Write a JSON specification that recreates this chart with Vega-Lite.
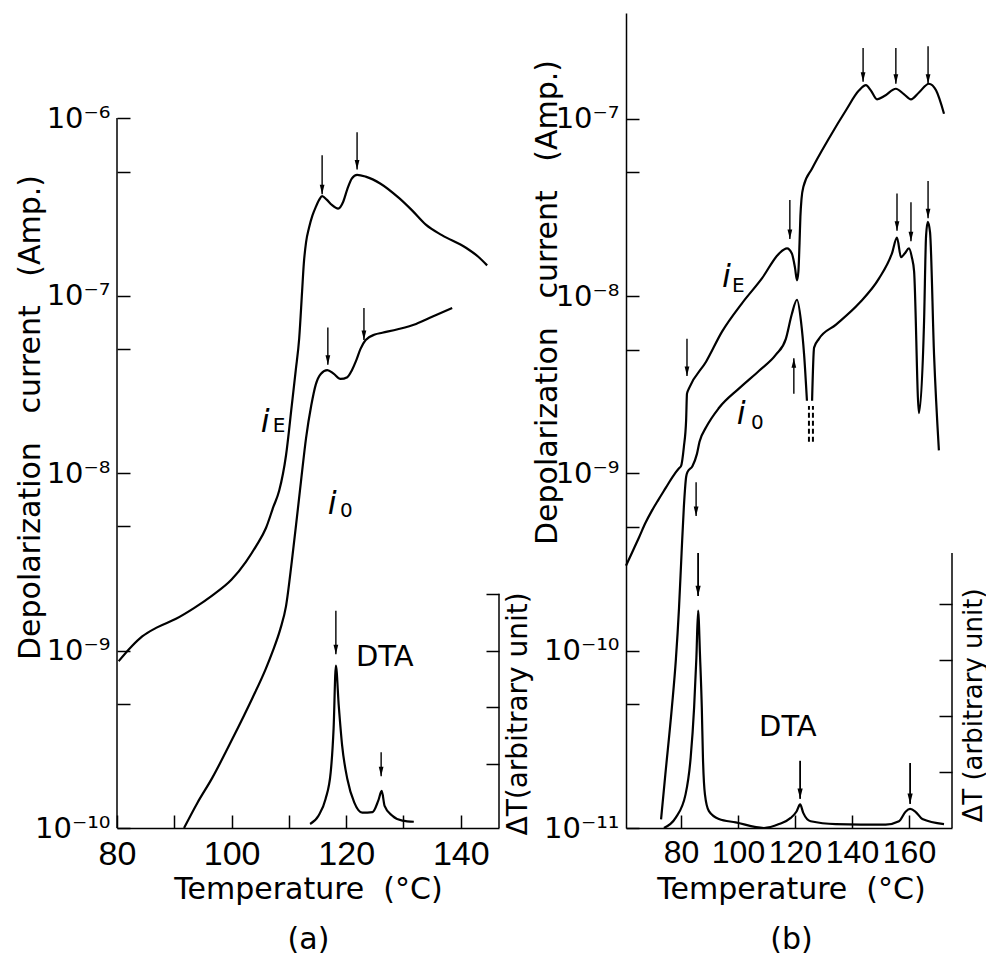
{
"$schema": "https://vega.github.io/schema/vega-lite/v6.json",
"background": "white",
"padding": {"left": 15, "top": 13, "right": 0, "bottom": 0},
"spacing": 127,
"bounds": "flush",
"config": {
  "view": {"stroke": null},
  "font": "DejaVu Sans",
  "axis": {"grid": false, "domainColor": "black", "tickColor": "black", "labelColor": "black", "titleColor": "black", "domainWidth": 1.5, "tickWidth": 1.5, "tickSize": -13, "labelFont": "Liberation Sans", "labelFontSize": 33, "labelPadding": 20, "titleFont": "DejaVu Sans", "titleFontSize": 30, "titleFontWeight": "normal", "labelOverlap": false, "labelFlush": false}
},
"datasets": {
  "aCur": [
    {"T":80.3,"I":8.71e-10,"s":"iE"},{"T":82.5,"I":1.05e-9,"s":"iE"},{"T":84.4,"I":1.20e-9,"s":"iE"},{"T":87.0,"I":1.35e-9,"s":"iE"},{"T":90.3,"I":1.51e-9,"s":"iE"},{"T":93.5,"I":1.74e-9,"s":"iE"},{"T":96.6,"I":2.04e-9,"s":"iE"},{"T":100.0,"I":2.51e-9,"s":"iE"},{"T":102.5,"I":3.16e-9,"s":"iE"},{"T":104.3,"I":3.89e-9,"s":"iE"},{"T":106.0,"I":4.90e-9,"s":"iE"},{"T":107.3,"I":6.46e-9,"s":"iE"},{"T":108.3,"I":7.94e-9,"s":"iE"},{"T":109.5,"I":1.26e-8,"s":"iE"},{"T":110.5,"I":2.40e-8,"s":"iE"},{"T":111.2,"I":3.80e-8,"s":"iE"},{"T":111.8,"I":5.75e-8,"s":"iE"},{"T":112.3,"I":1.05e-7,"s":"iE"},{"T":112.6,"I":1.51e-7,"s":"iE"},{"T":113.0,"I":2.00e-7,"s":"iE"},{"T":113.5,"I":2.40e-7,"s":"iE"},{"T":114.1,"I":2.82e-7,"s":"iE"},{"T":114.7,"I":3.16e-7,"s":"iE"},{"T":115.3,"I":3.47e-7,"s":"iE"},{"T":115.8,"I":3.63e-7,"s":"iE"},{"T":116.6,"I":3.47e-7,"s":"iE"},{"T":117.5,"I":3.24e-7,"s":"iE"},{"T":118.6,"I":3.09e-7,"s":"iE"},{"T":119.5,"I":3.39e-7,"s":"iE"},{"T":120.2,"I":3.98e-7,"s":"iE"},{"T":121.0,"I":4.57e-7,"s":"iE"},{"T":121.9,"I":4.79e-7,"s":"iE"},{"T":123.4,"I":4.68e-7,"s":"iE"},{"T":126.0,"I":4.27e-7,"s":"iE"},{"T":129.2,"I":3.55e-7,"s":"iE"},{"T":131.5,"I":3.02e-7,"s":"iE"},{"T":133.9,"I":2.51e-7,"s":"iE"},{"T":136.7,"I":2.19e-7,"s":"iE"},{"T":140.9,"I":1.86e-7,"s":"iE"},{"T":143.0,"I":1.66e-7,"s":"iE"},{"T":144.6,"I":1.48e-7,"s":"iE"},
    {"T":91.7,"I":1.0e-10,"s":"i0"},{"T":94.0,"I":1.38e-10,"s":"i0"},{"T":96.6,"I":1.91e-10,"s":"i0"},{"T":100.1,"I":3.16e-10,"s":"i0"},{"T":103.6,"I":5.37e-10,"s":"i0"},{"T":106.0,"I":7.94e-10,"s":"i0"},{"T":107.1,"I":9.77e-10,"s":"i0"},{"T":108.5,"I":1.32e-9,"s":"i0"},{"T":109.5,"I":1.78e-9,"s":"i0"},{"T":110.5,"I":3.16e-9,"s":"i0"},{"T":111.4,"I":5.62e-9,"s":"i0"},{"T":112.1,"I":8.91e-9,"s":"i0"},{"T":113.0,"I":1.58e-8,"s":"i0"},{"T":113.9,"I":2.40e-8,"s":"i0"},{"T":114.7,"I":3.16e-8,"s":"i0"},{"T":115.6,"I":3.63e-8,"s":"i0"},{"T":116.7,"I":3.80e-8,"s":"i0"},{"T":117.8,"I":3.63e-8,"s":"i0"},{"T":119.0,"I":3.39e-8,"s":"i0"},{"T":120.2,"I":3.47e-8,"s":"i0"},{"T":121.0,"I":3.80e-8,"s":"i0"},{"T":121.7,"I":4.27e-8,"s":"i0"},{"T":122.5,"I":5.01e-8,"s":"i0"},{"T":123.4,"I":5.62e-8,"s":"i0"},{"T":125.0,"I":6.03e-8,"s":"i0"},{"T":126.3,"I":6.17e-8,"s":"i0"},{"T":129.0,"I":6.46e-8,"s":"i0"},{"T":132.2,"I":6.92e-8,"s":"i0"},{"T":135.0,"I":7.59e-8,"s":"i0"},{"T":138.5,"I":8.51e-8,"s":"i0"}
  ],
  "aDTA": [
    {"T":113.7,"v":0.07},{"T":115.2,"v":0.22},{"T":116.4,"v":0.51},{"T":117.3,"v":0.98},{"T":117.8,"v":1.74},{"T":118.2,"v":2.85},{"T":118.7,"v":2.15},{"T":119.3,"v":1.44},{"T":120.2,"v":0.86},{"T":121.4,"v":0.45},{"T":122.8,"v":0.27},{"T":124.6,"v":0.28},{"T":125.6,"v":0.48},{"T":126.2,"v":0.65},{"T":126.7,"v":0.39},{"T":128.0,"v":0.22},{"T":129.8,"v":0.13},{"T":131.8,"v":0.11}
  ],
  "aArr": [
    {"T":115.8,"top":6.17e-7,"tip":3.72e-7,"dir":"down"},{"T":121.9,"top":8.32e-7,"tip":5.13e-7,"dir":"down"},{"T":116.8,"top":6.61e-8,"tip":4.07e-8,"dir":"down"},{"T":123.1,"top":8.51e-8,"tip":5.62e-8,"dir":"down"}
  ],
  "aArrD": [
    {"T":118.2,"top":3.81,"tip":3.05,"dir":"down"},{"T":126.1,"top":1.33,"tip":0.91,"dir":"down"}
  ],
  "aAxL": [{"T":80,"lo":1e-10,"hi":1e-6}],
  "aAxR": [{"T":146.67,"lo":0,"hi":4.11}],
  "aTxt": [
    {"T":105.1,"I":1.70e-8,"t":"i","r":"main"},{"T":107.2,"I":1.70e-8,"t":"E","r":"sub"},{"T":116.8,"I":5.89e-9,"t":"i","r":"main"},{"T":118.9,"I":5.62e-9,"t":"0","r":"sub"}
  ],
  "aTxtD": [{"T":121.7,"v":2.84,"t":"DTA"}],
  "bCur": [
    {"T":60.7,"I":3.02e-10,"s":"iE"},{"T":63.0,"I":3.63e-10,"s":"iE"},{"T":65.3,"I":4.37e-10,"s":"iE"},{"T":67.5,"I":5.25e-10,"s":"iE"},{"T":69.8,"I":6.17e-10,"s":"iE"},{"T":72.0,"I":7.08e-10,"s":"iE"},{"T":74.7,"I":8.32e-10,"s":"iE"},{"T":77.0,"I":9.55e-10,"s":"iE"},{"T":79.3,"I":1.07e-9,"s":"iE"},{"T":80.0,"I":1.10e-9,"s":"iE"},{"T":81.0,"I":1.41e-9,"s":"iE"},{"T":81.8,"I":2.00e-9,"s":"iE"},{"T":82.1,"I":2.82e-9,"s":"iE"},{"T":82.8,"I":3.02e-9,"s":"iE"},{"T":88.8,"I":4.27e-9,"s":"iE"},{"T":94.4,"I":6.31e-9,"s":"iE"},{"T":101.4,"I":9.12e-9,"s":"iE"},{"T":108.4,"I":1.26e-8,"s":"iE"},{"T":114.4,"I":1.74e-8,"s":"iE"},{"T":117.2,"I":1.86e-8,"s":"iE"},{"T":118.9,"I":1.74e-8,"s":"iE"},{"T":120.0,"I":1.45e-8,"s":"iE"},{"T":120.7,"I":1.23e-8,"s":"iE"},{"T":121.2,"I":1.38e-8,"s":"iE"},{"T":121.6,"I":2.00e-8,"s":"iE"},{"T":121.9,"I":2.82e-8,"s":"iE"},{"T":122.3,"I":3.55e-8,"s":"iE"},{"T":123.0,"I":4.17e-8,"s":"iE"},{"T":126.0,"I":5.25e-8,"s":"iE"},{"T":131.9,"I":7.76e-8,"s":"iE"},{"T":137.9,"I":1.12e-7,"s":"iE"},{"T":142.5,"I":1.45e-7,"s":"iE"},{"T":144.9,"I":1.55e-7,"s":"iE"},{"T":146.6,"I":1.45e-7,"s":"iE"},{"T":148.8,"I":1.29e-7,"s":"iE"},{"T":151.5,"I":1.35e-7,"s":"iE"},{"T":155.4,"I":1.48e-7,"s":"iE"},{"T":158.2,"I":1.38e-7,"s":"iE"},{"T":160.7,"I":1.29e-7,"s":"iE"},{"T":163.5,"I":1.41e-7,"s":"iE"},{"T":167.0,"I":1.58e-7,"s":"iE"},{"T":169.5,"I":1.45e-7,"s":"iE"},{"T":172.3,"I":1.07e-7,"s":"iE"},
    {"T":73.0,"I":1.12e-11,"s":"i0a"},{"T":74.5,"I":2.00e-11,"s":"i0a"},{"T":76.8,"I":4.79e-11,"s":"i0a"},{"T":78.2,"I":8.91e-11,"s":"i0a"},{"T":79.3,"I":1.74e-10,"s":"i0a"},{"T":80.2,"I":3.55e-10,"s":"i0a"},{"T":81.0,"I":6.46e-10,"s":"i0a"},{"T":81.8,"I":9.55e-10,"s":"i0a"},{"T":82.3,"I":1.02e-9,"s":"i0a"},{"T":84.0,"I":1.10e-9,"s":"i0a"},{"T":85.6,"I":1.29e-9,"s":"i0a"},{"T":86.5,"I":1.51e-9,"s":"i0a"},{"T":88.8,"I":1.82e-9,"s":"i0a"},{"T":93.3,"I":2.34e-9,"s":"i0a"},{"T":100.4,"I":3.02e-9,"s":"i0a"},{"T":107.4,"I":3.80e-9,"s":"i0a"},{"T":113.3,"I":4.68e-9,"s":"i0a"},{"T":116.8,"I":5.75e-9,"s":"i0a"},{"T":118.9,"I":7.94e-9,"s":"i0a"},{"T":120.7,"I":9.55e-9,"s":"i0a"},{"T":122.1,"I":7.24e-9,"s":"i0a"},{"T":123.2,"I":4.68e-9,"s":"i0a"},{"T":124.2,"I":2.57e-9,"s":"i0a"},
    {"T":126.0,"I":2.57e-9,"s":"i0b"},{"T":126.7,"I":5.13e-9,"s":"i0b"},{"T":128.4,"I":5.75e-9,"s":"i0b"},{"T":134.4,"I":6.92e-9,"s":"i0b"},{"T":142.5,"I":9.12e-9,"s":"i0b"},{"T":149.5,"I":1.26e-8,"s":"i0b"},{"T":154.0,"I":1.74e-8,"s":"i0b"},{"T":155.8,"I":2.14e-8,"s":"i0b"},{"T":157.2,"I":1.66e-8,"s":"i0b"},{"T":158.5,"I":1.74e-8,"s":"i0b"},{"T":160.0,"I":1.86e-8,"s":"i0b"},{"T":161.0,"I":1.66e-8,"s":"i0b"},{"T":161.8,"I":1.38e-8,"s":"i0b"},{"T":163.5,"I":2.19e-9,"s":"i0b"},{"T":165.3,"I":7.24e-9,"s":"i0b"},{"T":166.0,"I":2.19e-8,"s":"i0b"},{"T":166.6,"I":2.63e-8,"s":"i0b"},{"T":167.4,"I":2.29e-8,"s":"i0b"},{"T":168.8,"I":4.68e-9,"s":"i0b"},{"T":170.5,"I":1.35e-9,"s":"i0b"}
  ],
  "bDash": [{"T":124.9,"lo":1.51e-9,"hi":2.40e-9},{"T":126.3,"lo":1.51e-9,"hi":2.40e-9}],
  "bDTA": [
    {"T":74.0,"v":0.0},{"T":78.1,"v":0.18},{"T":81.6,"v":0.60},{"T":83.4,"v":1.26},{"T":84.6,"v":2.15},{"T":85.4,"v":3.04},{"T":86.0,"v":3.88},{"T":86.7,"v":3.04},{"T":87.3,"v":2.15},{"T":87.7,"v":1.26},{"T":88.4,"v":0.60},{"T":89.8,"v":0.30},{"T":93.3,"v":0.16},{"T":99.2,"v":0.10},{"T":109.1,"v":0.0},{"T":114.4,"v":0.07},{"T":118.5,"v":0.18},{"T":120.6,"v":0.30},{"T":121.8,"v":0.42},{"T":122.9,"v":0.27},{"T":125.5,"v":0.12},{"T":134.3,"v":0.07},{"T":151.8,"v":0.06},{"T":156.5,"v":0.12},{"T":158.8,"v":0.29},{"T":160.4,"v":0.34},{"T":162.3,"v":0.29},{"T":164.7,"v":0.16},{"T":172.3,"v":0.07}
  ],
  "bArr": [
    {"T":82.1,"top":5.75e-9,"tip":3.55e-9,"dir":"down"},{"T":118.2,"top":3.49e-8,"tip":2.10e-8,"dir":"down"},{"T":143.9,"top":2.51e-7,"tip":1.62e-7,"dir":"down"},{"T":155.4,"top":2.51e-7,"tip":1.58e-7,"dir":"down"},{"T":166.7,"top":2.57e-7,"tip":1.58e-7,"dir":"down"},{"T":155.8,"top":3.80e-8,"tip":2.34e-8,"dir":"down"},{"T":160.7,"top":3.39e-8,"tip":2.04e-8,"dir":"down"},{"T":166.7,"top":4.47e-8,"tip":2.75e-8,"dir":"down"},{"T":119.6,"top":2.82e-9,"tip":4.47e-9,"dir":"up"},{"T":85.3,"top":8.91e-10,"tip":5.75e-10,"dir":"down"}
  ],
  "bArrD": [
    {"T":86.0,"top":4.91,"tip":4.14,"dir":"down"},{"T":121.8,"top":1.20,"tip":0.52,"dir":"down"},{"T":160.4,"top":1.16,"tip":0.43,"dir":"down"}
  ],
  "bAxR": [{"T":175.1,"lo":0,"hi":4.91}],
  "bTxt": [
    {"T":94.4,"I":1.12e-8,"t":"i","r":"main"},{"T":97.9,"I":1.05e-8,"t":"E","r":"sub"},{"T":99.6,"I":1.91e-9,"t":"i","r":"main"},{"T":104.6,"I":1.78e-9,"t":"0","r":"sub"}
  ],
  "bTxtD": [{"T":107.4,"v":1.64,"t":"DTA"}]
},
"hconcat": [
{
  "width": 382, "height": 815,
  "resolve": {"scale": {"y": "independent"}, "axis": {"y": "independent"}},
  "layer": [
    {
      "layer": [
        {"data": {"name": "aCur"}, "mark": {"type": "line", "interpolate": "monotone", "color": "black", "strokeWidth": 2.2},
         "encoding": {
           "x": {"field": "T", "type": "quantitative", "scale": {"domain": [80, 146.67], "nice": false, "zero": false},
                 "axis": {"values": [80, 90, 100, 110, 120, 130, 140], "labelExpr": "datum.value % 20 == 0 ? datum.label : ''", "labelFontSize": 34, "labelPadding": 22, "title": ["Temperature\u00a0\u00a0(°C)", "(a)"], "titleX": 191, "titleY": 70, "titleAlign": "center", "titleBaseline": "alphabetic", "titleLineHeight": 50}},
           "y": {"field": "I", "type": "quantitative", "scale": {"type": "log", "domain": [1e-10, 3.91e-6], "nice": false},
                 "axis": {"orient": "left", "values": [1e-10, 5e-10, 1e-9, 5e-9, 1e-8, 5e-8, 1e-7, 5e-7, 1e-6], "domain": false, "labelFont": "DejaVu Sans", "labelFontSize": 29, "labelExpr": "abs(datum.value / pow(10, round(log(datum.value) / LN10)) - 1) < 0.01 ? '10' + replace(replace(replace(replace(replace(replace(replace(replace('' + round(log(datum.value) / LN10), '-', '⁻'), '1', '¹'), '1', '¹'), '0', '⁰'), '6', '⁶'), '7', '⁷'), '8', '⁸'), '9', '⁹') : ''", "title": "Depolarization\u00a0\u00a0\u00a0current\u00a0\u00a0\u00a0(Amp.)", "titleX": -78, "titleY": 404, "titleAngle": -90, "titleAlign": "center", "titleBaseline": "alphabetic"}},
           "detail": {"field": "s", "type": "nominal"}
         }},
        {"data": {"name": "aAxL"}, "mark": {"type": "rule", "color": "black", "strokeWidth": 1.5},
         "encoding": {"x": {"field": "T", "type": "quantitative"}, "y": {"field": "lo", "type": "quantitative"}, "y2": {"field": "hi"}}},
        {"data": {"name": "aArr"}, "mark": {"type": "rule", "color": "black", "strokeWidth": 1.4},
         "encoding": {"x": {"field": "T", "type": "quantitative"}, "y": {"field": "top", "type": "quantitative"}, "y2": {"field": "tip"}}},
        {"data": {"name": "aArr"}, "mark": {"type": "point", "filled": true, "color": "black", "opacity": 1, "size": 250, "strokeWidth": 0},
         "encoding": {"x": {"field": "T", "type": "quantitative"}, "y": {"field": "tip", "type": "quantitative"},
                      "shape": {"field": "dir", "type": "nominal", "scale": {"domain": ["down", "up"], "range": ["M-0.3,-1.2L0.3,-1.2L0,0Z", "M-0.3,1.2L0.3,1.2L0,0Z"]}, "legend": null}}},
        {"data": {"name": "aTxt"}, "transform": [{"filter": "datum.r == 'main'"}], "mark": {"type": "text", "align": "left", "baseline": "alphabetic", "fontSize": 32, "fontStyle": "italic", "font": "DejaVu Sans", "color": "black"},
         "encoding": {"x": {"field": "T", "type": "quantitative"}, "y": {"field": "I", "type": "quantitative"}, "text": {"field": "t"}}},
        {"data": {"name": "aTxt"}, "transform": [{"filter": "datum.r == 'sub'"}], "mark": {"type": "text", "align": "left", "baseline": "alphabetic", "fontSize": 20, "font": "DejaVu Sans", "color": "black"},
         "encoding": {"x": {"field": "T", "type": "quantitative"}, "y": {"field": "I", "type": "quantitative"}, "text": {"field": "t"}}}
      ]
    },
    {
      "layer": [
        {"data": {"name": "aDTA"}, "mark": {"type": "line", "interpolate": "monotone", "color": "black", "strokeWidth": 2.2},
         "encoding": {
           "x": {"field": "T", "type": "quantitative"},
           "y": {"field": "v", "type": "quantitative", "scale": {"domain": [0, 14.3], "nice": false, "zero": false},
                 "axis": {"orient": "right", "values": [1.12, 2.12, 3.11, 4.11], "labels": false, "domain": false, "title": "ΔT(arbitrary unit)", "titleFontSize": 28, "titleX": 27, "titleY": 822, "titleAngle": -90, "titleAlign": "left", "titleBaseline": "alphabetic"}}
         }},
        {"data": {"name": "aAxR"}, "mark": {"type": "rule", "color": "black", "strokeWidth": 1.5},
         "encoding": {"x": {"field": "T", "type": "quantitative"}, "y": {"field": "lo", "type": "quantitative"}, "y2": {"field": "hi"}}},
        {"data": {"name": "aArrD"}, "mark": {"type": "rule", "color": "black", "strokeWidth": 1.4},
         "encoding": {"x": {"field": "T", "type": "quantitative"}, "y": {"field": "top", "type": "quantitative"}, "y2": {"field": "tip"}}},
        {"data": {"name": "aArrD"}, "mark": {"type": "point", "filled": true, "color": "black", "opacity": 1, "size": 250, "strokeWidth": 0},
         "encoding": {"x": {"field": "T", "type": "quantitative"}, "y": {"field": "tip", "type": "quantitative"},
                      "shape": {"field": "dir", "type": "nominal", "scale": {"domain": ["down", "up"], "range": ["M-0.3,-1.2L0.3,-1.2L0,0Z", "M-0.3,1.2L0.3,1.2L0,0Z"]}, "legend": null}}},
        {"data": {"name": "aTxtD"}, "mark": {"type": "text", "align": "left", "baseline": "alphabetic", "fontSize": 29, "font": "DejaVu Sans", "color": "black"},
         "encoding": {"x": {"field": "T", "type": "quantitative"}, "y": {"field": "v", "type": "quantitative"}, "text": {"field": "t"}}}
      ]
    }
  ]
},
{
  "width": 326, "height": 815,
  "resolve": {"scale": {"y": "independent"}, "axis": {"y": "independent"}},
  "layer": [
    {
      "layer": [
        {"data": {"name": "bCur"}, "mark": {"type": "line", "interpolate": "monotone", "color": "black", "strokeWidth": 2.2},
         "encoding": {
           "x": {"field": "T", "type": "quantitative", "scale": {"domain": [60.7, 175.1], "nice": false, "zero": false},
                 "axis": {"values": [80, 100, 120, 140, 160], "labelFontSize": 32, "labelPadding": 22, "title": ["Temperature\u00a0\u00a0(°C)", "(b)"], "titleX": 165, "titleY": 70, "titleAlign": "center", "titleBaseline": "alphabetic", "titleLineHeight": 50}},
           "y": {"field": "I", "type": "quantitative", "scale": {"type": "log", "domain": [1e-11, 3.96e-7], "nice": false},
                 "axis": {"orient": "left", "values": [1e-11, 5e-11, 1e-10, 5e-10, 1e-9, 5e-9, 1e-8, 5e-8, 1e-7], "domain": true, "labelFont": "DejaVu Sans", "labelFontSize": 29, "labelExpr": "abs(datum.value / pow(10, round(log(datum.value) / LN10)) - 1) < 0.01 ? '10' + replace(replace(replace(replace(replace(replace(replace(replace('' + round(log(datum.value) / LN10), '-', '⁻'), '1', '¹'), '1', '¹'), '0', '⁰'), '6', '⁶'), '7', '⁷'), '8', '⁸'), '9', '⁹') : ''", "title": "Depolarization\u00a0\u00a0\u00a0current\u00a0\u00a0\u00a0(Amp.)", "titleX": -70, "titleY": 289, "titleAngle": -90, "titleAlign": "center", "titleBaseline": "alphabetic"}},
           "detail": {"field": "s", "type": "nominal"}
         }},
        {"data": {"name": "bDash"}, "mark": {"type": "rule", "color": "black", "strokeWidth": 2, "strokeDash": [5, 3]},
         "encoding": {"x": {"field": "T", "type": "quantitative"}, "y": {"field": "lo", "type": "quantitative"}, "y2": {"field": "hi"}}},
        {"data": {"name": "bArr"}, "mark": {"type": "rule", "color": "black", "strokeWidth": 1.4},
         "encoding": {"x": {"field": "T", "type": "quantitative"}, "y": {"field": "top", "type": "quantitative"}, "y2": {"field": "tip"}}},
        {"data": {"name": "bArr"}, "mark": {"type": "point", "filled": true, "color": "black", "opacity": 1, "size": 250, "strokeWidth": 0},
         "encoding": {"x": {"field": "T", "type": "quantitative"}, "y": {"field": "tip", "type": "quantitative"},
                      "shape": {"field": "dir", "type": "nominal", "scale": {"domain": ["down", "up"], "range": ["M-0.3,-1.2L0.3,-1.2L0,0Z", "M-0.3,1.2L0.3,1.2L0,0Z"]}, "legend": null}}},
        {"data": {"name": "bTxt"}, "transform": [{"filter": "datum.r == 'main'"}], "mark": {"type": "text", "align": "left", "baseline": "alphabetic", "fontSize": 32, "fontStyle": "italic", "font": "DejaVu Sans", "color": "black"},
         "encoding": {"x": {"field": "T", "type": "quantitative"}, "y": {"field": "I", "type": "quantitative"}, "text": {"field": "t"}}},
        {"data": {"name": "bTxt"}, "transform": [{"filter": "datum.r == 'sub'"}], "mark": {"type": "text", "align": "left", "baseline": "alphabetic", "fontSize": 20, "font": "DejaVu Sans", "color": "black"},
         "encoding": {"x": {"field": "T", "type": "quantitative"}, "y": {"field": "I", "type": "quantitative"}, "text": {"field": "t"}}}
      ]
    },
    {
      "layer": [
        {"data": {"name": "bDTA"}, "mark": {"type": "line", "interpolate": "monotone", "color": "black", "strokeWidth": 2.2},
         "encoding": {
           "x": {"field": "T", "type": "quantitative"},
           "y": {"field": "v", "type": "quantitative", "scale": {"domain": [0, 14.55], "nice": false, "zero": false},
                 "axis": {"orient": "right", "values": [1, 2, 3, 4], "labels": false, "domain": false, "title": "ΔT (arbitrary unit)", "titleFontSize": 26, "titleX": 29, "titleY": 809, "titleAngle": -90, "titleAlign": "left", "titleBaseline": "alphabetic"}}
         }},
        {"data": {"name": "bAxR"}, "mark": {"type": "rule", "color": "black", "strokeWidth": 1.5},
         "encoding": {"x": {"field": "T", "type": "quantitative"}, "y": {"field": "lo", "type": "quantitative"}, "y2": {"field": "hi"}}},
        {"data": {"name": "bArrD"}, "mark": {"type": "rule", "color": "black", "strokeWidth": 1.8},
         "encoding": {"x": {"field": "T", "type": "quantitative"}, "y": {"field": "top", "type": "quantitative"}, "y2": {"field": "tip"}}},
        {"data": {"name": "bArrD"}, "mark": {"type": "point", "filled": true, "color": "black", "opacity": 1, "size": 300, "strokeWidth": 0},
         "encoding": {"x": {"field": "T", "type": "quantitative"}, "y": {"field": "tip", "type": "quantitative"},
                      "shape": {"field": "dir", "type": "nominal", "scale": {"domain": ["down", "up"], "range": ["M-0.3,-1.2L0.3,-1.2L0,0Z", "M-0.3,1.2L0.3,1.2L0,0Z"]}, "legend": null}}},
        {"data": {"name": "bTxtD"}, "mark": {"type": "text", "align": "left", "baseline": "alphabetic", "fontSize": 29, "font": "DejaVu Sans", "color": "black"},
         "encoding": {"x": {"field": "T", "type": "quantitative"}, "y": {"field": "v", "type": "quantitative"}, "text": {"field": "t"}}}
      ]
    }
  ]
}
]
}
